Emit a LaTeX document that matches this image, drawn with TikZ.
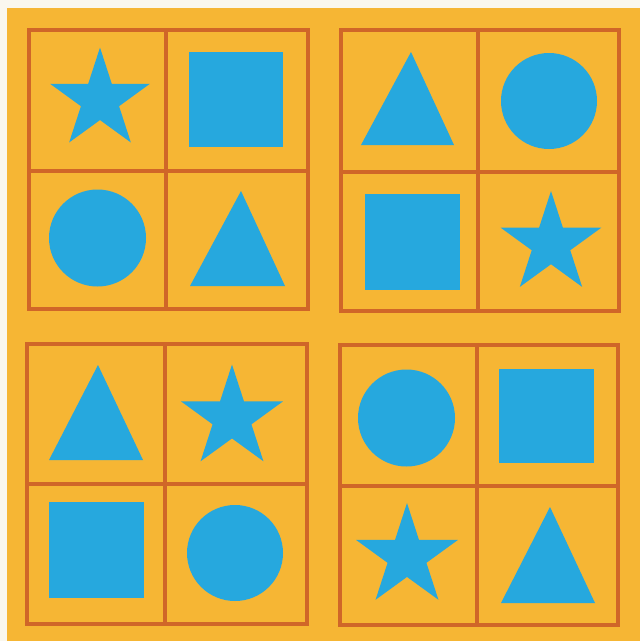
\documentclass[tikz,border=0pt]{standalone}
\definecolor{paper}{RGB}{250,247,238}
\definecolor{bgorange}{RGB}{246,182,52}
\definecolor{gridred}{RGB}{208,102,40}
\definecolor{shapeblue}{RGB}{38,168,222}
\tikzset{
  gridline/.style={draw=gridred, line width=3.8pt},
  shapefill/.style={fill=shapeblue},
}
\newcommand\drawblock[6]{%
  \draw[gridline] (#1,#4) rectangle (#3,#6);
  \draw[gridline] (#2,#4) -- (#2,#6);
  \draw[gridline] (#1,#5) -- (#3,#5);
}
\newcommand\mystar[3]{%
  \fill[shapefill, shift={(#1,#2)}]
    (-90:#3) -- (-54:{0.382*#3}) -- (-18:#3) -- (18:{0.382*#3}) --
    (54:#3) -- (90:{0.382*#3}) -- (126:#3) -- (162:{0.382*#3}) --
    (198:#3) -- (234:{0.382*#3}) -- cycle;
}
\newcommand\mysquare[4]{\fill[shapefill] (#1,#2) rectangle (#3,#4);}
\newcommand\mycircle[3]{\fill[shapefill] (#1,#2) circle[radius=#3];}
\newcommand\mytri[5]{\fill[shapefill] (#1,#2) -- (#3,#5) -- (#4,#5) -- cycle;}
\begin{document}
\begin{tikzpicture}[x=1pt,y=-1pt]
  \useasboundingbox (0,0) rectangle (640,641);
  \fill[paper] (0,0) rectangle (640,641);
  \fill[bgorange] (7,8) rectangle (640,641);
  % grids
  \drawblock{29}{166}{308}{30}{171}{309}
  \drawblock{341}{478}{619}{30}{172}{311}
  \drawblock{27}{165}{307}{344}{484}{624}
  \drawblock{340}{477}{618}{345}{486}{625}
  % top-left block
  \mystar{100}{100}{52.5}
  \mysquare{189}{52}{283}{147}
  \mycircle{97.5}{238}{48.5}
  \mytri{241}{191}{190}{285}{286}
  % top-right block
  \mytri{411}{52}{361}{454}{145}
  \mycircle{549}{101}{48}
  \mysquare{365}{194}{460}{290}
  \mystar{551}{244}{53}
  % bottom-left block
  \mytri{98}{365}{49}{143}{460}
  \mystar{232}{418}{53.5}
  \mysquare{49}{502}{144}{598}
  \mycircle{235}{553}{48}
  % bottom-right block
  \mycircle{406.5}{418}{48.5}
  \mysquare{499}{369}{594}{463}
  \mystar{407}{556.5}{53.5}
  \mytri{550}{507}{501}{595}{603}
\end{tikzpicture}
\end{document}
